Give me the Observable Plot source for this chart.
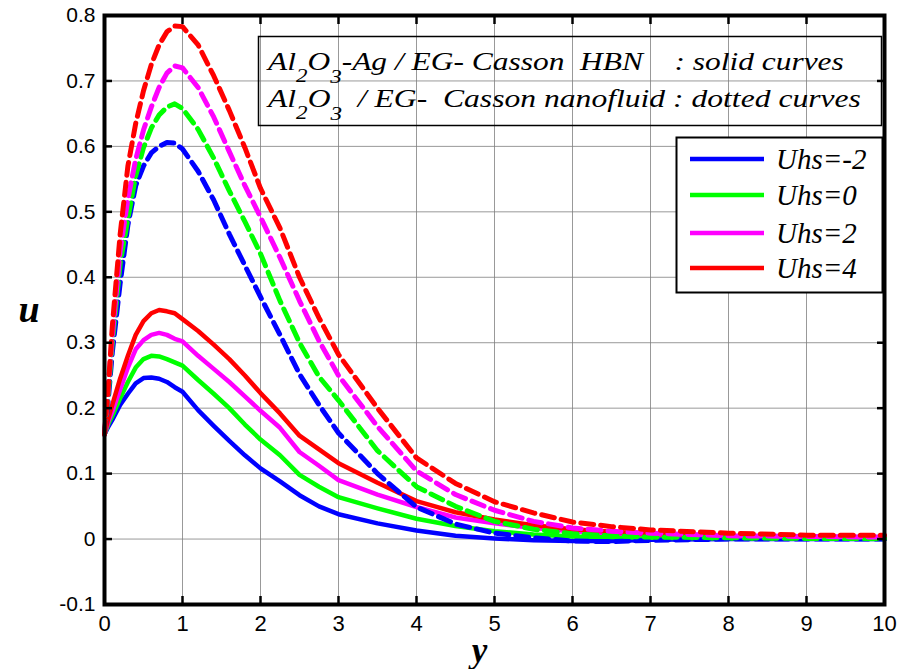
<!DOCTYPE html>
<html><head><meta charset="utf-8">
<script src="https://cdn.jsdelivr.net/npm/d3@7"></script>
<script src="https://cdn.jsdelivr.net/npm/@observablehq/plot@0.6"></script>
<style>
body{margin:0;background:#fff;}
#wrap{position:relative;width:901px;height:669px;overflow:hidden;}
#wrap svg{position:absolute;left:0;top:0;}
</style></head><body><div id="wrap"></div>
<script>
// horizontal variable (labelled "y" in the chart)
const yGrid = [0,0.05,0.1,0.2,0.3,0.4,0.5,0.6,0.7,0.8,0.9,1.0,1.2,1.4,1.6,1.8,2.0,2.25,2.5,2.75,3.0,3.5,4,4.5,5,5.5,6,6.5,7,8,9,10];

const seriesNames = ["Uhs=-2","Uhs=0","Uhs=2","Uhs=4"];
const seriesColors = ["#0000ff","#00ff00","#ff00ff","#ff0000"];

// Al2O3-Ag / EG Casson HBN (solid curves)
const hbnM2 = [0.16,0.172,0.182,0.205,0.222,0.238,0.246,0.247,0.245,0.240,0.232,0.225,0.197,0.173,0.150,0.128,0.108,0.088,0.067,0.050,0.038,0.024,0.013,0.005,0.001,-0.002,-0.003,-0.003,-0.001,0,0,0];
const hbn0  = [0.16,0.176,0.188,0.215,0.240,0.262,0.275,0.280,0.279,0.275,0.270,0.265,0.243,0.222,0.200,0.175,0.152,0.128,0.098,0.080,0.064,0.047,0.031,0.020,0.012,0.007,0.004,0.003,0.002,0.001,0.001,0.0];
const hbn2  = [0.16,0.180,0.195,0.228,0.262,0.290,0.304,0.312,0.315,0.312,0.306,0.302,0.280,0.260,0.240,0.218,0.196,0.170,0.133,0.112,0.090,0.068,0.049,0.033,0.024,0.017,0.012,0.009,0.007,0.004,0.003,0.002];
const hbn4  = [0.16,0.185,0.205,0.245,0.280,0.312,0.333,0.345,0.350,0.348,0.345,0.336,0.318,0.297,0.275,0.250,0.223,0.192,0.158,0.137,0.116,0.086,0.058,0.041,0.030,0.021,0.015,0.011,0.008,0.004,0.003,0.002];

// Al2O3 / EG Casson nanofluid (dotted curves)
const nfM2 = [0.16,0.215,0.285,0.390,0.480,0.540,0.570,0.590,0.600,0.606,0.605,0.596,0.562,0.518,0.466,0.418,0.370,0.312,0.252,0.205,0.162,0.100,0.049,0.023,0.009,0.002,-0.003,-0.004,-0.002,0,0,0];
const nf0  = [0.16,0.225,0.300,0.420,0.490,0.555,0.598,0.628,0.648,0.660,0.665,0.658,0.626,0.582,0.532,0.485,0.436,0.364,0.300,0.248,0.212,0.135,0.080,0.050,0.027,0.015,0.008,0.005,0.003,0.002,0.001,0.001];
const nf2  = [0.16,0.235,0.310,0.440,0.520,0.580,0.625,0.660,0.690,0.712,0.723,0.720,0.690,0.645,0.592,0.540,0.492,0.430,0.364,0.303,0.250,0.172,0.104,0.068,0.044,0.027,0.017,0.012,0.009,0.005,0.004,0.003];
const nf4  = [0.16,0.235,0.325,0.465,0.570,0.635,0.685,0.725,0.755,0.775,0.784,0.783,0.755,0.708,0.655,0.598,0.536,0.475,0.400,0.338,0.282,0.200,0.124,0.085,0.057,0.040,0.026,0.019,0.014,0.009,0.006,0.006];

const xTicks = [0,1,2,3,4,5,6,7,8,9,10];
const yTicks = [-0.1,0,0.1,0.2,0.3,0.4,0.5,0.6,0.7,0.8];

const hbnSeries = [hbnM2, hbn0, hbn2, hbn4];
const nfSeries = [nfM2, nf0, nf2, nf4];
function rows(list){
  const out = [];
  list.forEach((vals, i) => vals.forEach((u, j) => out.push({y: yGrid[j], u, s: seriesNames[i]})));
  return out;
}
const solidRows = rows(hbnSeries);
const dashRows = rows(nfSeries);

const tickFont = "Liberation Sans, Arial, sans-serif";
const serif = "Liberation Serif, Times New Roman, Times, Nimbus Roman, DejaVu Serif, Noto Serif, serif";

const chart = Plot.plot({
  width: 901, height: 669,
  marginTop: 15, marginBottom: 65, marginLeft: 104, marginRight: 17,
  style: {fontFamily: tickFont, background: "white", color: "black"},
  x: {domain: [0, 10], label: null},
  y: {domain: [-0.1, 0.8], label: null},
  color: {domain: seriesNames, range: seriesColors},
  marks: [
    Plot.gridX(xTicks, {stroke: "#808080", strokeOpacity: 0.8, strokeWidth: 1}),
    Plot.gridY(yTicks, {stroke: "#808080", strokeOpacity: 0.8, strokeWidth: 1}),
    Plot.line(solidRows, {x: "y", y: "u", z: "s", stroke: "s", strokeWidth: 4.5}),
    Plot.line(dashRows, {x: "y", y: "u", z: "s", stroke: "s", strokeWidth: 5, strokeDasharray: "13,7"}),
    Plot.frame({stroke: "black", strokeWidth: 4}),
    Plot.axisX(xTicks, {anchor: "bottom", tickSize: -8, tickPadding: 19, fontSize: 22, strokeWidth: 2.5, tickFormat: d => String(d), label: null}),
    Plot.axisX(xTicks, {anchor: "top", tickSize: -8, strokeWidth: 2.5, tickFormat: () => "", label: null}),
    Plot.axisY(yTicks, {anchor: "left", tickSize: -8, tickPadding: 17, fontSize: 21, strokeWidth: 2.5, tickFormat: d => String(d), label: null}),
    Plot.axisY(yTicks, {anchor: "right", tickSize: -8, strokeWidth: 2.5, tickFormat: () => "", label: null}),
    Plot.text(["u"], {frameAnchor: "left", dx: -86, text: d => d, fontSize: 38, fontWeight: "bold", fontStyle: "italic", fontFamily: serif}),
    Plot.text(["y"], {frameAnchor: "bottom", dx: -15, dy: 57, text: d => d, fontSize: 35, fontWeight: "bold", fontStyle: "italic", fontFamily: serif})
  ]
});
document.getElementById("wrap").appendChild(chart);

// overlay legends
const ov = d3.select("#wrap").append("svg").attr("width", 901).attr("height", 669)
  .attr("font-family", serif).attr("font-style", "italic");

// annotation box (transparent, grid shows through)
ov.append("rect").attr("x", 258.5).attr("y", 36.5).attr("width", 623).attr("height", 89)
  .attr("fill", "none").attr("stroke", "black").attr("stroke-width", 1.5);
function formulaLine(yb, rest, targetWidth){
  const g = ov.append("g").attr("transform", `translate(268,${yb})`);
  const t = g.append("text").attr("x", 0).attr("y", 0).attr("font-size", 26);
  t.append("tspan").text("Al");
  t.append("tspan").attr("dy", 12).attr("font-size", 19).text("2");
  t.append("tspan").attr("dy", -12).text("O");
  t.append("tspan").attr("dy", 13).attr("font-size", 19).text("3");
  t.append("tspan").attr("dy", -13).attr("xml:space", "preserve").text(rest);
  const w = t.node().getComputedTextLength();
  if (w > 0) g.attr("transform", `translate(268,${yb}) scale(${targetWidth / w},1)`);
}
formulaLine(70, "-Ag / EG- Casson\u00a0 HBN\u00a0\u00a0\u00a0 : solid curves", 576);
formulaLine(107, "\u00a0 / EG-\u00a0 Casson nanofluid : dotted curves", 593);

// series legend
ov.append("rect").attr("x", 676.5).attr("y", 137.5).attr("width", 206).attr("height", 155)
  .attr("fill", "white").attr("stroke", "black").attr("stroke-width", 2);
const legY = [159, 195, 233, 268];
seriesNames.forEach((n, i) => {
  ov.append("line").attr("x1", 690).attr("x2", 764).attr("y1", legY[i]).attr("y2", legY[i])
    .attr("stroke", seriesColors[i]).attr("stroke-width", 4.5);
  ov.append("text").attr("x", 776).attr("y", legY[i] + 10).attr("font-size", 29).text(n);
});
</script></body></html>
